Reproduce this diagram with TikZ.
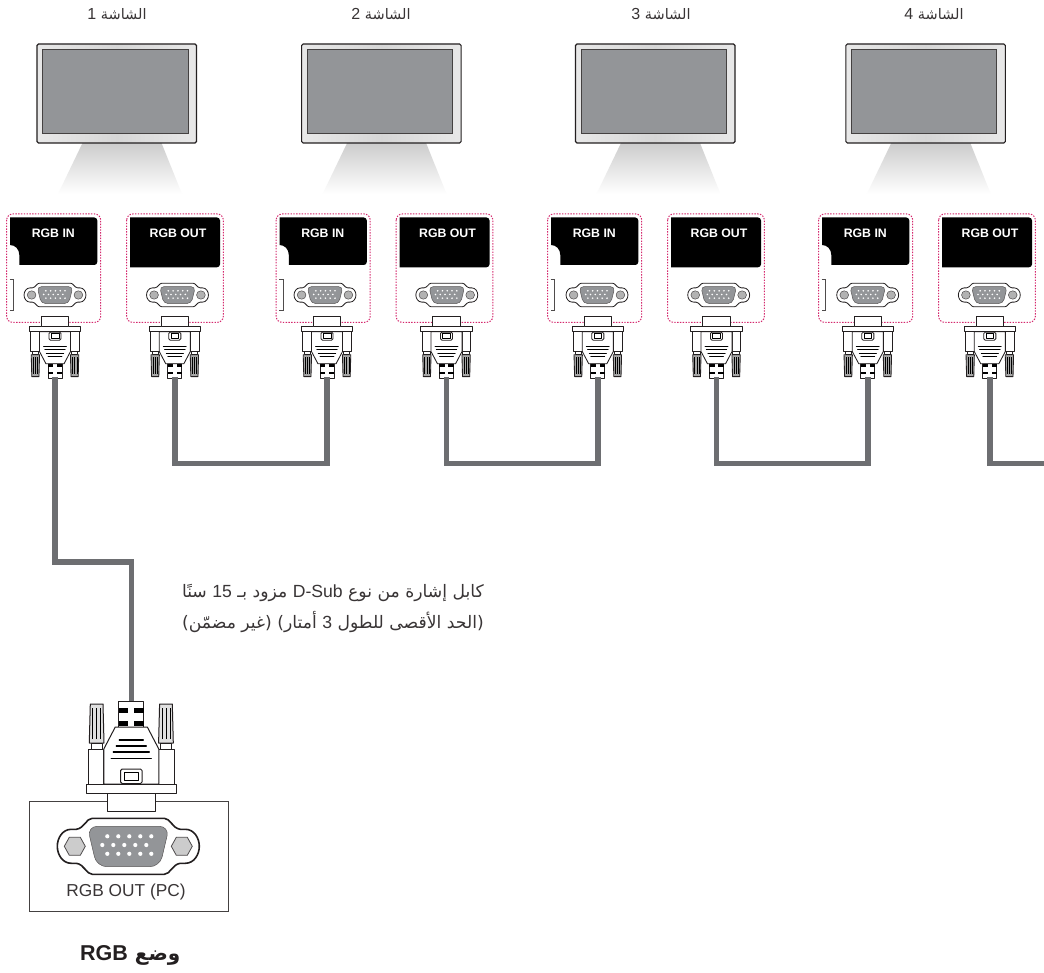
\documentclass[tikz,border=0pt]{standalone}
\usepackage{fontspec}
\setmainfont{Liberation Sans}
\newfontfamily\ar[Script=Arabic]{DejaVu Sans}
\TeXXeTstate=1
\definecolor{cablegray}{HTML}{6D6E71}
\definecolor{screengray}{HTML}{939598}
\definecolor{pinkdash}{HTML}{D5286E}
\definecolor{edgedark}{HTML}{231F20}
\newcommand\lat[2]{\beginL{\rmfamily\fontsize{#1}{20}\selectfont #2}\endL{}}
\tikzset{
  cable/.style={draw=cablegray,line width=5.4pt,line join=miter},
  bezel/.style={draw=edgedark,line width=1.1pt,rounded corners=1.5pt,left color=black!9,right color=black!9,middle color=black!16},
  screenface/.style={draw=edgedark!85,line width=1pt,fill=screengray},
  standfoot/.style={top color=black!20,bottom color=white,draw=none},
  dashpanel/.style={draw=pinkdash,line width=1pt,dash pattern=on 1.4pt off 1.4pt,rounded corners=6pt},
  blacklabel/.style={fill=black,draw=none},
  portlabel/.style={text=white,font=\bfseries\fontsize{12.3}{14}\selectfont,inner sep=0pt},
  titletext/.style={font=\fontsize{14.5}{16}\selectfont,text=edgedark!90,inner sep=0pt},
  captiontext/.style={font=\fontsize{17.2}{29}\selectfont,text=edgedark!90,inner sep=0pt,align=right},
  plugline/.style={draw=edgedark,fill=white},
}
% #1 line width, #2 thumb-screw fill
\newcommand\vgaplug[2]{%
  \begin{scope}[line width=#1pt,line join=round]
    \foreach \s in {-1,1}{
      \path[plugline,fill=#2] (\s*27.3,68) -- (\s*42,68) -- (\s*41,107) -- (\s*28.3,107) -- cycle;
      \foreach \k in {-4,0,4}{\draw[line width=.7*#1pt] (\s*34.6+\k,72) -- (\s*34.6+\k,103);}
      \path[plugline] (\s*29,62) rectangle (\s*40,68);
      \path[plugline] (\s*27.5,27) rectangle (\s*43,62);
    }
    \path[plugline] (-12.5,84) rectangle (12.5,110);
    \fill (-12.5,98) rectangle (-3,103);
    \fill (3,98) rectangle (12.5,103);
    \fill (-12.5,85) rectangle (-3,90.5);
    \fill (3,85) rectangle (12.5,90.5);
    \path[plugline] (-27.5,27) -- (-27.5,62) -- (-16,84) -- (16,84) -- (27.5,62) -- (27.5,27) -- cycle;
    \foreach \u/\w in {71/12,65/15,59/18,52.7/20}{
      \draw[line width=1.3*#1pt,line cap=round] (-\w,\u) -- (\w,\u);
    }
    \path[plugline] (-45.3,17.7) rectangle (45.3,27);
    \path[plugline] (-24,0) rectangle (24,17.7);
    \path[plugline,rounded corners=1.5pt] (-10.7,27.5) rectangle (10.7,42);
    \draw[line width=.8*#1pt] (-7,30.5) rectangle (7,39);
  \end{scope}%
}
\newcommand\lobeHex{%
  \foreach \s in {-1,1}{
    \path[draw=edgedark!80,fill=black!20,line width=.8pt] (\s*64,0) -- (\s*59,-9) -- (\s*48,-9) -- (\s*43,0) -- (\s*48,9) -- (\s*59,9) -- cycle;}%
}
\newcommand\lobeCirc{%
  \foreach \s in {-1,1}{
    \path[draw=edgedark!80,fill=black!30,line width=.5pt] (\s*53.7,0) circle[radius=10];}%
}
\newcommand\vgaport[3]{%
  \path[draw=edgedark,fill=white,line width=#2pt,line join=round]
    (-36,-28) -- (36,-28) .. controls (42,-28) and (44,-18) .. (52,-17) -- (57,-17)
    .. controls (66,-17) and (71,-8) .. (71,0) .. controls (71,8) and (66,17) .. (57,17) -- (52,17)
    .. controls (44,18) and (42,28) .. (36,28) -- (-36,28)
    .. controls (-42,28) and (-44,18) .. (-52,17) -- (-57,17)
    .. controls (-66,17) and (-71,8) .. (-71,0) .. controls (-71,-8) and (-66,-17) .. (-57,-17) -- (-52,-17)
    .. controls (-44,-18) and (-42,-28) .. (-36,-28) -- cycle;
  #3
  \path[draw=edgedark!75,fill=screengray,line width=.5pt,rounded corners=#1*10pt]
    (-41,-20) -- (41,-20) -- (31.5,20.4) -- (-31.5,20.4) -- cycle;
  \foreach \p in {-21,-10,1,12,23}{
    \fill[white] (\p,-10) circle[radius=2.1];
    \fill[white] (\p-5,-1.3) circle[radius=2.1];
    \fill[white] (\p,7.5) circle[radius=2.1];
  }%
}
\newcommand\monitor[4]{%
  \begin{scope}[shift={(#1,0)}]
    \path[standfoot] (45.5,143) -- (124.5,143) -- (145,194) -- (21,194) -- cycle;
    \path[bezel] (0,44) rectangle (159.5,143);
    \path[screenface] (5.5,50) rectangle (151,134);
  \end{scope}
  \node[titletext] (#3) at (#2,14) {\ar\beginR الشاشة \lat{16}{#4}\endR};%
}
\newcommand\panelIN[4]{%
  \path[dashpanel] (6.7+#1,214) rectangle (100.7+#1,322.4);
  \path[blacklabel,rounded corners=3pt] (10+#1,217.5) -- (97.3+#1,217.5) -- (97.3+#1,265) [sharp corners] -- (19.3+#1,265) -- (19.3+#1,255) .. controls (19.3+#1,249) and (15+#1,245) .. (10+#1,245) -- cycle;
  \node[portlabel] (#4lab) at (53.3+#1,233.5) {RGB IN};
  \draw[edgedark!80,line width=.7pt] (9.5+#1,279) -- (13.6+#1,279) -- (13.6+#1,310) -- (9.5+#1,310);
  \begin{scope}[shift={(#2,295)},x=.436pt,y=-.42pt]\vgaport{.436}{.8}{\lobeCirc}\end{scope}
  \coordinate (#4) at (#3,377);
  \begin{scope}[shift={(#3,316.7)},x=.566pt,y=-.56pt]\vgaplug{.85}{black!35}\end{scope}%
}
\newcommand\panelOUT[4]{%
  \path[dashpanel] (126.7+#1,214) rectangle (223.3+#1,322.4);
  \path[blacklabel,rounded corners=3pt] (130+#1,217.5) -- (220+#1,217.5) -- (220+#1,267.3) [sharp corners] -- (130+#1,267.3) -- cycle;
  \node[portlabel] (#4lab) at (178+#1,233.5) {RGB OUT};
  \begin{scope}[shift={(#2,295)},x=.436pt,y=-.42pt]\vgaport{.436}{.8}{\lobeCirc}\end{scope}
  \coordinate (#4) at (#3,377);
  \begin{scope}[shift={(#3,316.7)},x=.566pt,y=-.56pt]\vgaplug{.85}{black!35}\end{scope}%
}
\begin{document}
\begin{tikzpicture}[x=1pt,y=-1pt]
\useasboundingbox (0,0) rectangle (1044,973);
\fill[white] (0,0) rectangle (1044,973);
\monitor{37}{117}{title1}{1}
\monitor{301.6}{381}{title2}{2}
\monitor{575.5}{661}{title3}{3}
\monitor{845.8}{934}{title4}{4}
\coordinate (busA) at (250,463.2);
\coordinate (busB) at (520,463.2);
\coordinate (busC) at (790,463.2);
\coordinate (edgeR) at (1044,463.2);
\coordinate (busM) at (95,562);
\coordinate (pcIn) at (131.7,702);
\panelIN{0}{55}{55}{in1}
\panelOUT{0}{177.5}{174.8}{out1}
\panelIN{269.5}{325}{327}{in2}
\panelOUT{269.5}{446.8}{446.5}{out2}
\panelIN{541}{597}{597.8}{in3}
\panelOUT{541}{718.7}{716.5}{out3}
\panelIN{812}{867.7}{867.8}{in4}
\panelOUT{812}{989.3}{989.8}{out4}
\draw[cable] (out1) |- (busA) -| (in2);
\draw[cable] (out2) |- (busB) -| (in3);
\draw[cable] (out3) |- (busC) -| (in4);
\draw[cable] (out4) |- (edgeR);
\draw[cable] (in1) |- (busM) -| (pcIn);
\path[draw=edgedark!85,line width=1pt,fill=white] (29.3,801.7) rectangle (228.7,911);
\begin{scope}[shift={(128.3,846.3)}]\vgaport{1}{1.6}{\lobeHex}\end{scope}
\begin{scope}[shift={(131.3,811)},x=1pt,y=1pt]\vgaplug{1}{black!12}\end{scope}
\node[inner sep=0pt,font=\fontsize{17.3}{20}\selectfont,text=edgedark!90] (pclabel) at (126,892.3) {RGB OUT (PC)};
\node[inner sep=0pt,font=\bfseries\fontsize{20}{24}\selectfont,text=edgedark] (modelabel) at (130.3,955) {\ar\beginR وضع \beginL{\rmfamily\bfseries\fontsize{21.5}{24}\selectfont RGB}\endL\endR};
\node[captiontext,anchor=east] (cap1) at (484,592.7) {\ar\beginR كابل إشارة من نوع \lat{17.6}{D-Sub} مزود بـ \lat{17.6}{15} سنًا\endR};
\node[captiontext,anchor=east] (cap2) at (484,621.7) {\ar\beginR (الحد الأقصى للطول \lat{17.6}{3} أمتار) (غير مضمّن)\endR};
\end{tikzpicture}
\end{document}
